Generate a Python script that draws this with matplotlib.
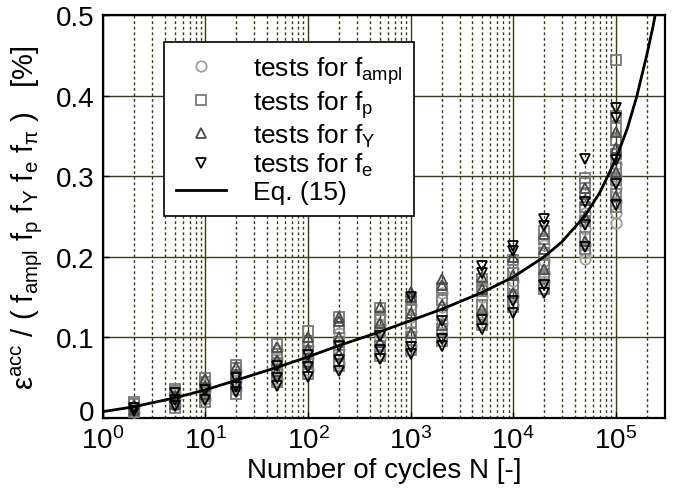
import numpy as np
import matplotlib
matplotlib.use('Agg')
import matplotlib.pyplot as plt
import matplotlib.transforms as mtransforms
from matplotlib.ticker import LogLocator, NullFormatter

plt.rcParams['font.family'] = ['Liberation Sans', 'DejaVu Sans']
plt.rcParams['mathtext.fontset'] = 'custom'
plt.rcParams['mathtext.rm'] = 'Liberation Sans'
plt.rcParams['mathtext.it'] = 'Liberation Sans'
plt.rcParams['mathtext.default'] = 'regular'

# number of cycles of each group of tests
n_groups = [2, 5, 10, 20, 50, 100, 200, 500, 1000, 2000, 5000, 10000, 20000, 50000, 100000]

# strain values, one list per group
circ_y = [
    [0.008, 0.014],
    [0.016, 0.024, 0.030],
    [0.024, 0.033, 0.042],
    [0.035, 0.047, 0.058],
    [0.048, 0.060, 0.075, 0.085],
    [0.060, 0.074, 0.090],
    [0.068, 0.085, 0.105],
    [0.080, 0.098, 0.115, 0.128],
    [0.090, 0.108, 0.125, 0.140],
    [0.100, 0.118, 0.138, 0.155],
    [0.118, 0.130, 0.150, 0.165],
    [0.140, 0.152, 0.170, 0.185],
    [0.170, 0.180, 0.195, 0.215],
    [0.197, 0.205, 0.215, 0.235, 0.255],
    [0.242, 0.255, 0.268, 0.285, 0.300, 0.315],
]
sq_y = [
    [0.007, 0.012, 0.017, 0.020],
    [0.013, 0.019, 0.026, 0.033, 0.036],
    [0.020, 0.028, 0.037, 0.045, 0.050],
    [0.030, 0.040, 0.052, 0.062, 0.066],
    [0.045, 0.055, 0.068, 0.080, 0.092],
    [0.055, 0.067, 0.082, 0.096, 0.108],
    [0.064, 0.078, 0.095, 0.112, 0.125],
    [0.077, 0.090, 0.108, 0.122, 0.136],
    [0.085, 0.100, 0.118, 0.134, 0.148],
    [0.096, 0.110, 0.128, 0.146, 0.162],
    [0.115, 0.125, 0.140, 0.158, 0.172],
    [0.138, 0.150, 0.165, 0.180, 0.196],
    [0.160, 0.175, 0.190, 0.205, 0.222, 0.232],
    [0.210, 0.225, 0.245, 0.262, 0.278, 0.292, 0.298],
    [0.262, 0.278, 0.295, 0.310, 0.328, 0.345, 0.360, 0.375, 0.444],
]
up_y = [
    [0.010, 0.016],
    [0.018, 0.028],
    [0.030, 0.040, 0.048],
    [0.044, 0.055, 0.063],
    [0.058, 0.072, 0.088],
    [0.070, 0.086, 0.100],
    [0.080, 0.100, 0.120, 0.126],
    [0.095, 0.118, 0.138],
    [0.105, 0.130, 0.150, 0.156],
    [0.115, 0.140, 0.165, 0.172],
    [0.135, 0.160, 0.175],
    [0.155, 0.178, 0.200],
    [0.185, 0.210, 0.228],
    [0.220, 0.250, 0.270, 0.285],
    [0.275, 0.305, 0.335, 0.355],
]
dn_y = [
    [0.009, 0.013],
    [0.015, 0.022, 0.031],
    [0.022, 0.035],
    [0.032, 0.038, 0.050],
    [0.040, 0.050, 0.064],
    [0.051, 0.063, 0.078],
    [0.059, 0.072, 0.090],
    [0.073, 0.085, 0.102],
    [0.079, 0.088, 0.150],
    [0.090, 0.098, 0.120],
    [0.110, 0.122, 0.180, 0.189],
    [0.131, 0.145, 0.207, 0.213],
    [0.155, 0.165, 0.238, 0.247],
    [0.212, 0.240, 0.268, 0.322],
    [0.265, 0.290, 0.320, 0.372, 0.385],
]

# Eq. (15)
eq_n = [1, 2, 5, 10, 20, 50, 100, 200, 500, 1000, 2000, 5000, 10000, 20000,
        30000, 50000, 70000, 100000, 130000, 160000, 200000, 230000, 260000]
eq_y = [0.008, 0.014, 0.025, 0.035, 0.047, 0.063, 0.076, 0.090, 0.107, 0.121,
        0.135, 0.156, 0.175, 0.200, 0.219, 0.251, 0.280, 0.321, 0.360, 0.399,
        0.450, 0.485, 0.522]


def flat(groups):
    xs, ys = [], []
    for n, vals in zip(n_groups, groups):
        xs += [n] * len(vals)
        ys += vals
    return xs, ys


fig = plt.figure(figsize=(6.86, 4.89), dpi=100)
ax = fig.add_axes([0.150, 0.143, 0.819, 0.824])

grid_col = '#3a3a14'
styles = [
    (circ_y, 'o', '#a0a0a0', 'tests for f$_{ampl}$'),
    (sq_y, 's', '#7a7a7a', 'tests for f$_p$'),
    (up_y, '^', '#4a4a4a', 'tests for f$_Y$'),
    (dn_y, 'v', '#000000', 'tests for f$_e$'),
]
for vals, mk, col, lab in styles:
    xs, ys = flat(vals)
    ax.plot(xs, ys, mk, mfc='none', mec=col, ms=7.5, mew=1.3, label=lab,
            zorder=3)

ax.plot(eq_n, eq_y, '-', color='black', lw=2, label='Eq. (15)', zorder=4)

ax.set_xscale('log')
ax.set_xlim(1, 3e5)
ax.set_ylim(0, 0.5)
ax.set_yticks([0, 0.1, 0.2, 0.3, 0.4, 0.5])
ax.set_yticklabels(['0', '0.1', '0.2', '0.3', '0.4', '0.5'])
ax.xaxis.set_major_locator(LogLocator(base=10, numticks=10))
ax.xaxis.set_minor_locator(LogLocator(base=10, subs=np.arange(2, 10), numticks=20))
ax.xaxis.set_minor_formatter(NullFormatter())

ax.grid(True, which='major', color=grid_col, lw=1.0, ls='-', zorder=0)
ax.grid(True, which='minor', axis='x', color=grid_col, lw=1.0, ls=(0, (2, 2)), zorder=0)
ax.set_axisbelow(True)

for s in ax.spines.values():
    s.set_linewidth(1.6)
ax.tick_params(direction='in', labelsize=20, length=4, width=1)
ax.tick_params(axis='x', pad=6)
ax.tick_params(axis='y', pad=6)
ax.tick_params(which='minor', length=0)

# lift the "0" label a little, as in the original
lift = mtransforms.ScaledTranslation(0, 6 / 72, fig.dpi_scale_trans)
ylab0 = ax.get_yticklabels()[0]
ylab0.set_transform(ylab0.get_transform() + lift)

ax.set_xlabel('Number of cycles N [-]', fontsize=20, labelpad=2)
ax.set_ylabel('ε$^{acc}$ / ( f$_{ampl}$ f$_p$ f$_Y$ f$_e$ f$_π$ )   [%]',
              fontsize=21, labelpad=8)

leg = ax.legend(loc='upper left', bbox_to_anchor=(0.109, 0.933), fontsize=19,
                fancybox=False, framealpha=1, edgecolor='black',
                handlelength=1.9, handletextpad=1.0, borderaxespad=0,
                labelspacing=0.08, borderpad=0.45)
leg.get_frame().set_linewidth(1.2)

fig.savefig('out.png', dpi=100)
